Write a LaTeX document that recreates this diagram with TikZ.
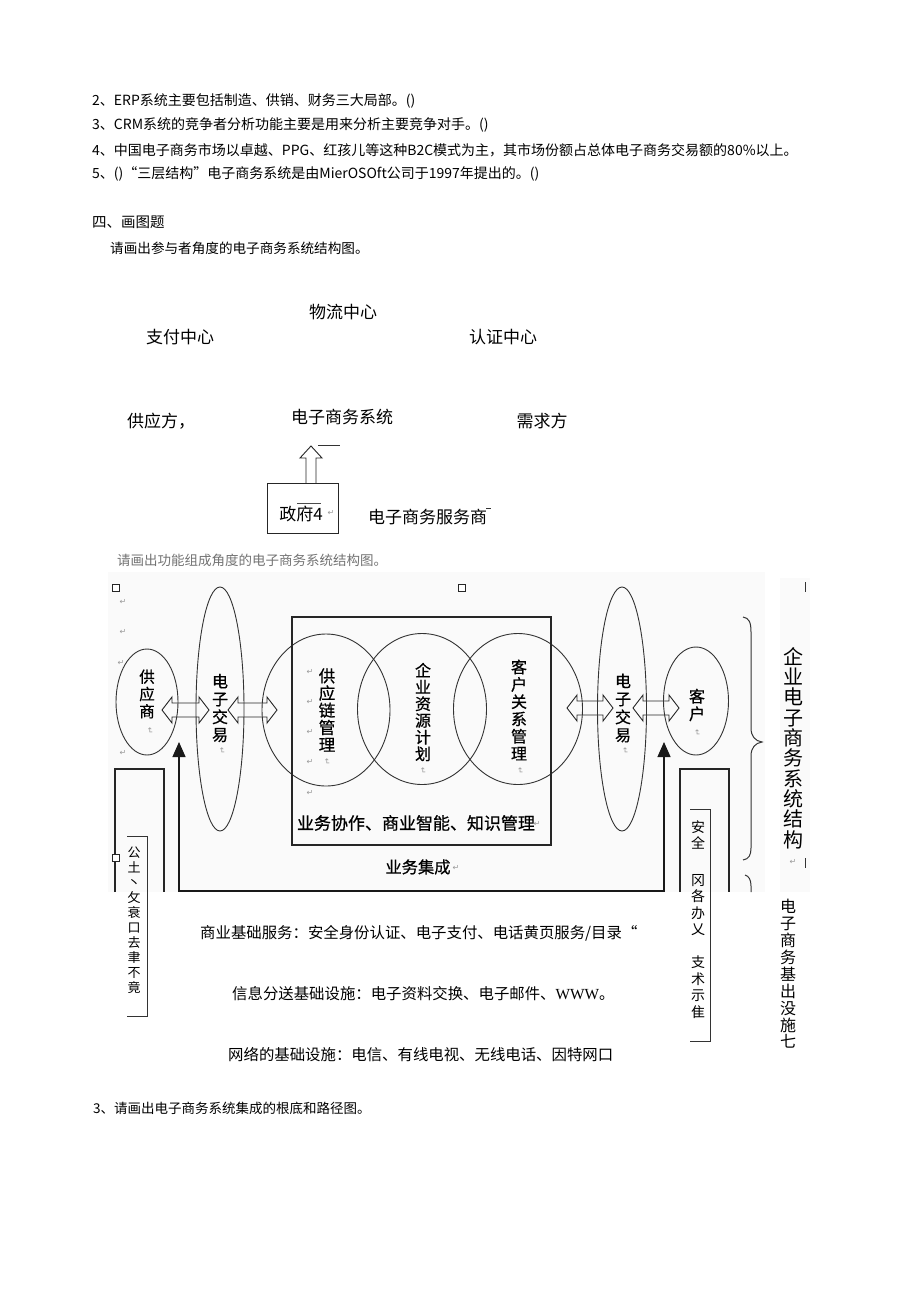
\documentclass[tikz,border=0pt]{standalone}
\usepackage{fontspec}
\setmainfont{Noto Sans CJK SC}
\newfontfamily\hei[FakeBold=0.6]{Noto Sans CJK SC}
\newfontfamily\djv{DejaVu Sans}
\newfontfamily\tms{Liberation Serif}
\usetikzlibrary{shapes.geometric,arrows.meta}
\newcommand\myfs[2]{\fontsize{#1}{#2}\selectfont}
\begin{document}
\begin{tikzpicture}[x=1pt,y=-1pt,
  txt/.style={inner sep=0pt, anchor=west},
  ctx/.style={inner sep=0pt},
  vt/.style={inner sep=0pt, align=center},
  ov/.style={ellipse, draw=black!80, line width=0.9pt, inner sep=0pt},
  ret/.style={inner sep=0pt, text=black!40, font=\djv\myfs{8}{8}},
  rret/.style={ret, rotate=-90},
  frame/.style={draw=black!85, line width=1.2pt},
  thin/.style={draw=black!80, line width=0.9pt},
  hollow/.style={draw=black!85, line width=0.9pt, line join=miter},
  sq/.style={draw=black!85, line width=0.9pt, fill=white, minimum size=7pt, inner sep=0pt},
  link/.style={draw=black!90, line width=1.3pt, {Triangle[width=13pt,length=15pt]}-{Triangle[width=13pt,length=15pt]}}
]
\useasboundingbox (0,0) rectangle (920,1301);
\fill[white] (0,0) rectangle (920,1301);

% ---------- questions ----------
\node[txt, font=\myfs{14}{14}] (q2) at (92,101) {2、ERP系统主要包括制造、供销、财务三大局部。()};
\node[txt, font=\myfs{14}{14}] (q3) at (92,125) {3、CRM系统的竞争者分析功能主要是用来分析主要竞争对手。()};
\node[txt, font=\myfs{14}{14}] (q4) at (92,150) {4、中国电子商务市场以卓越、PPG、红孩儿等这种B2C模式为主，其市场份额占总体电子商务交易额的80\%以上。};
\node[txt, font=\myfs{14}{14}] (q5) at (92,174) {5、()“三层结构”电子商务系统是由MierOSOft公司于1997年提出的。()};
\node[txt, font=\myfs{14.5}{14.5}] (h4) at (92,222) {四、画图题};
\node[txt, font=\myfs{13.6}{13.6}] (h41) at (110,248) {请画出参与者角度的电子商务系统结构图。};

% ---------- participants diagram ----------
\node[ctx, font=\myfs{17}{17}] (wl) at (343,312) {物流中心};
\node[ctx, font=\myfs{17}{17}] (zf) at (180,337) {支付中心};
\node[ctx, font=\myfs{17}{17}] (rz) at (503,337) {认证中心};
\node[txt, font=\myfs{17}{17}] (gyf) at (127,421) {供应方，};
\node[ctx, font=\myfs{17}{17}] (ecs) at (342,417) {电子商务系统};
\node[ctx, font=\myfs{17}{17}] (xqf) at (542,421) {需求方};
\node[draw=black!85, line width=1pt, minimum width=71pt, minimum height=50pt, inner sep=0pt] (gov) at (302.5,508) {};
\node[ctx, font=\myfs{17}{17}] (govt) at (301,514) {政府4};
\draw[black!70, line width=0.8pt] (297,503) -- (321,503);
\node[ret] at (331,513) {↵};
\draw[hollow] (306,483) -- (306,458) -- (300,458) -- (311,446) -- (322,458) -- (316,458) -- (316,483);
\draw[black!80, line width=0.8pt] (318,445) -- (340,445);
\node[txt, font=\myfs{17}{17}] (fws) at (368,517) {电子商务服务商};
\draw[black!80, line width=0.8pt] (486,508) -- (491,508);

% ---------- functional diagram ----------
\node[txt, font=\myfs{13.5}{13.5}, text=black!55] (h42) at (117,560) {请画出功能组成角度的电子商务系统结构图。};
\fill[black!2] (108,572) rectangle (765,892);
\fill[black!2] (780,578) rectangle (810,892);

% double hollow arrows (drawn before the ellipses)
\newcommand\DblArr[3]{%
  \draw[hollow] (#1,#3) -- ({#1+10},{#3-13}) -- ({#1+10},{#3-7}) -- ({#2-10},{#3-7}) -- ({#2-10},{#3-13}) -- (#2,#3)
     -- ({#2-10},{#3+13}) -- ({#2-10},{#3+7}) -- ({#1+10},{#3+7}) -- ({#1+10},{#3+13}) -- cycle;}
\DblArr{162}{209}{710}
\DblArr{228}{277}{710}
\DblArr{567}{613}{708}
\DblArr{633}{679}{708}

\node[ov, minimum width=62pt, minimum height=106pt] (sup) at (147,702) {};
\node[ov, minimum width=48pt, minimum height=244pt] (etl) at (220,709) {};
\node[ov, minimum width=128pt, minimum height=152pt] (scm) at (326,710) {};
\node[ov, minimum width=129pt, minimum height=151pt] (erp) at (422,709) {};
\node[ov, minimum width=129pt, minimum height=151pt] (crm) at (518,709) {};
\node[ov, minimum width=49pt, minimum height=244pt] (etr) at (622,709) {};
\node[ov, minimum width=65pt, minimum height=108pt] (cus) at (696,701) {};
\node[frame, minimum width=259pt, minimum height=228pt, inner sep=0pt] (core) at (421.5,731) {};

\node[vt, font=\hei\myfs{15.5}{17.3}] at (147,694) {供\\应\\商};
\node[vt, font=\hei\myfs{16}{17.8}] at (220,708) {电\\子\\交\\易};
\node[vt, font=\hei\myfs{16.5}{17.2}] at (327,710) {供\\应\\链\\管\\理};
\node[vt, font=\hei\myfs{16}{16.7}] at (423,712) {企\\业\\资\\源\\计\\划};
\node[vt, font=\hei\myfs{16}{17.3}] at (519,710) {客\\户\\关\\系\\管\\理};
\node[vt, font=\hei\myfs{16}{18}] at (623,708) {电\\子\\交\\易};
\node[vt, font=\hei\myfs{16}{17.5}] at (697,705) {客\\户};

\node[rret] at (150,731) {↵};
\node[rret] at (222,751) {↵};
\node[rret] at (327,762) {↵};
\node[rret] at (423,771) {↵};
\node[rret] at (520,771) {↵};
\node[rret] at (625,751) {↵};
\node[rret] at (697,733) {↵};
\node[ret] at (123,602) {↵};
\node[ret] at (123,632) {↵};
\node[ret] at (121,663) {↵};
\node[ret] at (123,753) {↵};
\foreach \yy in {672,702,732,762,793} \node[ret] at (310,\yy) {↵};

\node[ctx, font=\hei\myfs{17}{17}] (xz) at (416,823) {业务协作、商业智能、知识管理};
\node[ret] at (537,824) {↵};
\node[ctx, font=\hei\myfs{16.3}{16.3}] (jc) at (418,867) {业务集成};
\node[ret] at (456,868) {↵};

\coordinate (la) at (179,742);
\coordinate (ra) at (664,742);
\coordinate (bl) at (179,891);
\draw[link] (la) -- (bl) -| (ra);

% side boxes
\draw[frame] (115,892) -- (115,769) -- (164,769) -- (164,892);
\draw[thin] (127,836) -- (147,836) -- (147,1016) -- (127,1016);
\node[vt, font=\myfs{13}{15}] (lawt) at (134,920) {公\\土\\丶\\攵\\衰\\口\\去\\聿\\不\\竟};
\draw[frame] (680,892) -- (680,769) -- (729,769) -- (729,892);
\draw[thin] (690,809) -- (710,809) -- (710,1041) -- (690,1041);
\node[vt, font=\myfs{14}{16.5}] (aq) at (698,835) {安\\全};
\node[vt, font=\myfs{14}{16.5}] (wl2) at (698,905) {冈\\各\\办\\乂};
\node[vt, font=\myfs{14}{16.5}] (bz) at (698,987) {支\\术\\示\\隹};

\node[sq] at (116,588) {};
\node[sq] at (462,588) {};
\node[sq] at (116,858) {};

% brace
\draw[black!80, line width=1pt] (743,617) .. controls (749,618) and (751,622) .. (751,632) -- (751,728)
   .. controls (751,736) and (755,741) .. (762,742) .. controls (755,743) and (751,748) .. (751,756)
   -- (751,848) .. controls (751,855) and (749,859) .. (743,860);
\draw[black!80, line width=1pt] (745,875) .. controls (749,876) and (751,880) .. (751,886) -- (751,892);

\node[vt, font=\myfs{20}{20.3}] (qyjg) at (793,748) {企\\业\\电\\子\\商\\务\\系\\统\\结\\构};
\node[ret] at (793,862) {↵};
\draw[black!80, line width=0.9pt] (805,582) -- (805,592);
\draw[black!80, line width=0.9pt] (805,858) -- (805,868);
\node[vt, font=\myfs{16}{16.9}] (jcss) at (788,974) {电\\子\\商\\务\\基\\出\\没\\施\\七};

\node[txt, font=\myfs{15.4}{15.4}] (s1) at (200,933) {商业基础服务：安全身份认证、电子支付、电话黄页服务/目录“};
\node[txt, font=\myfs{15.4}{15.4}] (s2) at (232,994) {信息分送基础设施：电子资料交换、电子邮件、{\tms WWW}。};
\node[txt, font=\myfs{15.4}{15.4}] (s3) at (228,1055) {网络的基础设施：电信、有线电视、无线电话、因特网口};

\node[txt, font=\myfs{13.5}{13.5}] (q3b) at (93,1108) {3、请画出电子商务系统集成的根底和路径图。};
\end{tikzpicture}
\end{document}
